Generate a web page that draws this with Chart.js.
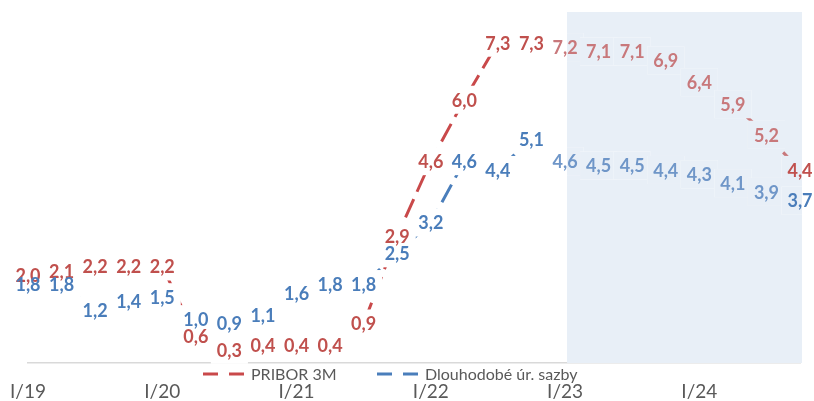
<!DOCTYPE html>
<html>
<head>
<meta charset="utf-8">
<script src="https://cdn.jsdelivr.net/npm/chart.js@4"></script>
<style>
html,body{margin:0;padding:0;background:#fff;}
#wrap{width:814px;height:401px;position:relative;}
</style>
</head>
<body>
<div id="wrap"><canvas id="c" width="814" height="401"></canvas></div>
<script>
const quarters = ["I/19","II/19","III/19","IV/19","I/20","II/20","III/20","IV/20","I/21","II/21","III/21","IV/21","I/22","II/22","III/22","IV/22","I/23","II/23","III/23","IV/23","I/24","II/24","III/24","IV/24"];
const pribor = [2.0,2.1,2.2,2.2,2.2,0.6,0.3,0.4,0.4,0.4,0.9,2.9,4.6,6.0,7.3,7.3,7.2,7.1,7.1,6.9,6.4,5.9,5.2,4.4];
const longRates = [1.8,1.8,1.2,1.4,1.5,1.0,0.9,1.1,1.6,1.8,1.8,2.5,3.2,4.6,4.4,5.1,4.6,4.5,4.5,4.4,4.3,4.1,3.9,3.7];
const seriesNames = ["PRIBOR 3M","Dlouhodobé úr. sazby"];
const forecastStart = "I/23";

const FONT = "Lato, 'Open Sans', sans-serif";
const RED = '#C9494A', BLUE = '#4A7EBB';
const RED_TXT = '#C0504D', BLUE_TXT = '#4A7DBA';
const RED_FC = '#C8787B', BLUE_FC = '#6F96C8';
const SHADE = '#E8EFF7';
const fcIdx = quarters.indexOf(forecastStart);

function shadeBounds(chart) {
  const {chartArea, scales} = chart;
  return { x0: scales.x.getPixelForValue(fcIdx) + 2, x1: chartArea.right + 2 };
}

const shadePlugin = {
  id: 'shade',
  beforeDatasetsDraw(chart) {
    const {ctx, chartArea} = chart;
    const {x0, x1} = shadeBounds(chart);
    ctx.save();
    ctx.fillStyle = SHADE;
    ctx.fillRect(x0, chartArea.top, x1 - x0, chartArea.bottom - chartArea.top);
    ctx.restore();
  }
};

function labelColor(di, i, n) {
  if (i === n - 1 || i < fcIdx) return di === 0 ? RED_TXT : BLUE_TXT;
  return di === 0 ? RED_FC : BLUE_FC;
}

const labelPlugin = {
  id: 'vlabels',
  afterDatasetsDraw(chart) {
    const {ctx} = chart;
    const {x0, x1} = shadeBounds(chart);
    ctx.save();
    ctx.font = "bold 18px " + FONT;
    ctx.textAlign = 'center';
    ctx.textBaseline = 'middle';
    // backgrounds first (hide the lines under the labels)
    chart.data.datasets.forEach((ds, di) => {
      chart.getDatasetMeta(di).data.forEach((pt, i) => {
        const txt = ds.data[i].toFixed(1).replace('.', ',');
        const w = ctx.measureText(txt).width;
        const l = pt.x - w/2 - 6, r = pt.x + w/2 + 6, t = pt.y - 14, h = 28;
        ctx.fillStyle = '#fff';
        ctx.fillRect(l, t, r - l, h);
        const sl = Math.max(l, x0), sr = Math.min(r, x1);
        if (sr > sl) { ctx.fillStyle = SHADE; ctx.fillRect(sl, t, sr - sl, h); }
      });
    });
    // texts
    chart.data.datasets.forEach((ds, di) => {
      chart.getDatasetMeta(di).data.forEach((pt, i) => {
        const txt = ds.data[i].toFixed(1).replace('.', ',');
        ctx.fillStyle = labelColor(di, i, ds.data.length);
        ctx.fillText(txt, pt.x, pt.y + 1);
      });
    });
    ctx.restore();
  }
};

const legendPlugin = {
  id: 'clegend',
  afterDraw(chart) {
    const {ctx} = chart;
    const items = [{x: 203, color: RED}, {x: 377, color: BLUE}];
    const y = 374;
    ctx.save();
    ctx.font = "16px " + FONT;
    ctx.textBaseline = 'middle';
    ctx.textAlign = 'left';
    items.forEach((it, k) => {
      ctx.strokeStyle = it.color;
      ctx.lineWidth = 3;
      ctx.setLineDash([15, 11]);
      ctx.beginPath();
      ctx.moveTo(it.x, y);
      ctx.lineTo(it.x + 45, y);
      ctx.stroke();
      ctx.setLineDash([]);
      ctx.fillStyle = '#595959';
      ctx.fillText(chart.data.datasets[k].label, it.x + 48, y + 1);
    });
    ctx.restore();
  }
};

new Chart(document.getElementById('c'), {
  type: 'line',
  data: {
    labels: quarters,
    datasets: [
      {
        label: seriesNames[0], data: pribor, borderColor: RED, borderWidth: 3,
        borderDash: [20, 8], pointRadius: 0, tension: 0,
        segment: { borderColor: c => c.p0DataIndex >= fcIdx ? RED_FC : RED }
      },
      {
        label: seriesNames[1], data: longRates, borderColor: BLUE, borderWidth: 3,
        borderDash: [20, 8], pointRadius: 0, tension: 0,
        segment: { borderColor: c => c.p0DataIndex >= fcIdx ? BLUE_FC : BLUE }
      }
    ]
  },
  options: {
    responsive: false,
    animation: false,
    devicePixelRatio: 1,
    layout: { padding: { left: 28, right: 14, top: 12, bottom: 0 } },
    plugins: { legend: { display: false }, tooltip: { enabled: false } },
    scales: {
      x: {
        offset: false,
        grid: { display: false, drawTicks: false },
        border: { display: true, color: '#D9D9D9', width: 1.5 },
        afterFit: s => { s.height = 38; s.paddingLeft = 0; s.paddingRight = 0; },
        ticks: {
          autoSkip: false, maxRotation: 0, padding: 17,
          color: '#595959', font: { family: FONT, size: 19 },
          callback: (v, i) => (i % 4 === 0 ? quarters[i] : '')
        }
      },
      y: { display: false, min: 0, max: 8 }
    }
  },
  plugins: [shadePlugin, labelPlugin, legendPlugin]
});
</script>
</body>
</html>
